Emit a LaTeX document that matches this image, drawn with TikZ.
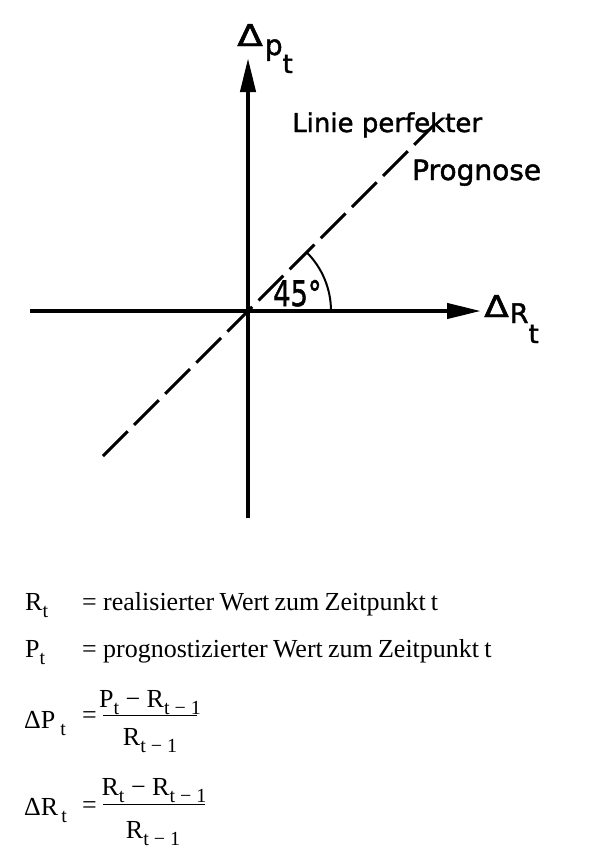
\documentclass[tikz,border=0pt]{standalone}
\usepackage{fontspec}
\usepackage{graphicx}
\usetikzlibrary{arrows.meta}
\newfontfamily\letterfont[FakeBold=1.6]{DejaVu Sans}
\newfontfamily\legfont{Liberation Serif}
\newcommand{\lsub}[1]{\raisebox{-7pt}{\fontsize{20}{20}\selectfont #1}}
\newcommand{\fsz}[1]{\fontsize{#1}{#1}\selectfont}

\begin{document}
\begin{tikzpicture}[
        x = 1pt, y = -1pt,
        >= {Triangle[length = 34pt, width = 15pt]},
        axis/.style = {line width = 4.2pt, ->},
        prognose/.style = {line width = 3pt, dash pattern = on 35pt off 9pt},
        angle/.style = {line width = 2pt},
        lbl/.style = {inner sep = 0pt, anchor = base west, font = \letterfont},
        leg/.style = {inner sep = 0pt, anchor = base west, font = \legfont\fsz{26}},
        fracbar/.style = {line width = 1pt}
    ]

        \useasboundingbox (0,0) rectangle (602,862);

        \coordinate (O) at (248,311);
        \coordinate (x_l) at (30,311);
        \coordinate (x_r) at (481,311);
        \coordinate (y_b) at (248,518);
        \coordinate (y_t) at (248,58);
        \coordinate (p_b) at (103,456);
        \coordinate (p_t) at (435,124);

        \draw[axis] (x_l) -- (x_r);
        \draw[axis] (y_b) -- (y_t);
        \draw[prognose] (p_b) -- (p_t);
        \draw[angle] ([xshift = 83pt] O) arc[start angle = 0, end angle = 45, radius = 83pt];

        \node[lbl] (l_dp) at (237,46) {\scalebox{1.25}[1]{\fsz{30}Δ}\hspace{2pt}\raisebox{-9pt}{\fsz{28}p}\raisebox{-27pt}{\fsz{26}t}};
        \node[lbl] (l_dr) at (484,317) {\scalebox{1.2}[1]{\fsz{30}Δ}\hspace{1pt}\raisebox{-6pt}{\fsz{27}R}\raisebox{-26pt}{\fsz{26}t}};
        \node[lbl, font = \letterfont\fsz{26}] (l_linie) at (292,132) {Linie perfekter};
        \node[lbl, font = \letterfont\fsz{28}] (l_prog) at (412,180) {Prognose};
        \node[lbl] (l_45) at (273,306) {\scalebox{0.78}[1]{\fsz{35}45°}};

        \node[leg] (R_sym) at (25,610) {R\lsub{t}};
        \node[leg] (R_eq) at (82,610) {=};
        \node[leg] (R_txt) at (103,610) {\spaceskip=.2em realisierter Wert zum Zeitpunkt t};

        \node[leg] (P_sym) at (25,657) {P\lsub{t}};
        \node[leg] (P_eq) at (82,657) {=};
        \node[leg] (P_txt) at (103,657) {\spaceskip=.2em prognostizierter Wert zum Zeitpunkt t};

        \node[leg] (dP_sym) at (24,728) {ΔP\hspace{5pt}\lsub{t}};
        \node[leg] (dP_eq) at (82,723) {=};
        \node[leg, anchor = base] (dP_num) at (150,707) {P\lsub{t} − R\lsub{t − 1}};
        \node[leg, anchor = base] (dP_den) at (150,745) {R\lsub{t − 1}};
        \draw[fracbar] (103,715) -- (197,715);

        \node[leg] (dR_sym) at (24,815) {ΔR\hspace{3pt}\lsub{t}};
        \node[leg] (dR_eq) at (82,813) {=};
        \node[leg, anchor = base] (dR_num) at (154,795) {R\lsub{t} − R\lsub{t − 1}};
        \node[leg, anchor = base] (dR_den) at (153,838) {R\lsub{t − 1}};
        \draw[fracbar] (103,804) -- (205,804);

\end{tikzpicture}
\end{document}
